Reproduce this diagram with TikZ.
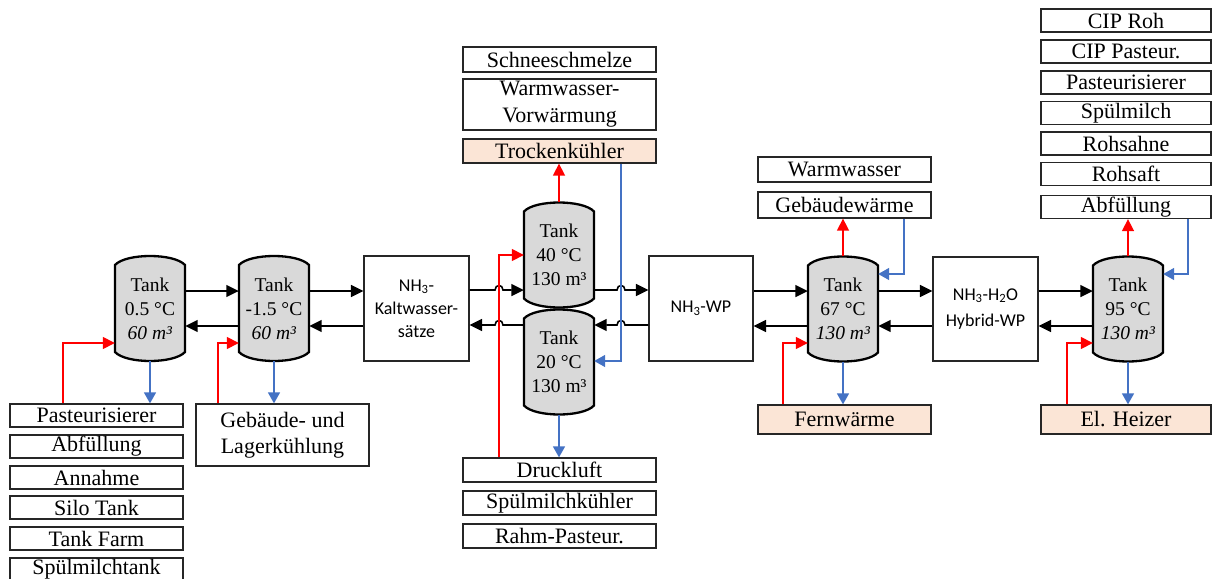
\documentclass[tikz,border=0pt]{standalone}
\usepackage{fontspec}
\setmainfont{Liberation Serif}
\newfontfamily\sansf{Carlito}
\usetikzlibrary{arrows.meta,calc}
\definecolor{peach}{HTML}{FBE5D6}
\definecolor{hblue}{HTML}{4472C4}
\definecolor{tgray}{HTML}{D9D9D9}
\newcommand\tankbody[2]{%
  \filldraw[draw=black,line width=2.3pt,fill=tgray]
  (#1-35,#2-43.5) .. controls (#1-24,#2-55.5) and (#1+24,#2-55.5) .. (#1+35,#2-43.5)
  -- (#1+35,#2+43.5) .. controls (#1+24,#2+55.5) and (#1-24,#2+55.5) .. (#1-35,#2+43.5) -- cycle;}
\begin{document}
\begin{tikzpicture}[x=1pt,y=-1pt,
  box/.style={draw=black!85,line width=1.3pt,inner sep=0pt,align=center,
    font=\fontsize{22}{26}\selectfont},
  sbox/.style={box,font=\sansf\fontsize{18}{23}\selectfont},
  tank/.style={inner sep=0pt,minimum width=70pt,minimum height=105pt,align=center,
    font=\fontsize{19.5}{24}\selectfont},
  warm/.style={fill=peach},
  blk/.style={line width=1.6pt,-{Triangle[length=12.5pt,width=12pt]}},
  hot/.style={red,line width=1.5pt,-{Triangle[length=12pt,width=12pt]}},
  cold/.style={hblue,line width=1.5pt,-{Triangle[length=11pt,width=12pt]}}]
\clip (0,0) rectangle (1212,578);
\fill[white] (0,0) rectangle (1212,578);

% left column
\node[box,minimum width=173pt,minimum height=23pt] (pa) at (96.5,415.5) {Pasteurisierer};
\node[box,minimum width=173pt,minimum height=23pt] (af) at (96.5,446.5) {Abfüllung};
\node[box,minimum width=173pt,minimum height=23pt] (an) at (96.5,477.5) {Annahme};
\node[box,minimum width=173pt,minimum height=23pt] (st) at (96.5,507.5) {Silo Tank};
\node[box,minimum width=173pt,minimum height=23pt] (tf) at (96.5,538.5) {Tank Farm};
\node[box,minimum width=173pt,minimum height=23pt] (sm) at (96.5,569.5) {Spülmilchtank};
\node[box,minimum width=173pt,minimum height=62pt] (gl) at (282.5,435) {Gebäude- und\\Lagerkühlung};

% middle top / bottom
\node[box,minimum width=193pt,minimum height=25pt] (sc) at (559.5,59.5) {Schneeschmelze};
\node[box,minimum width=193pt,minimum height=51pt,font=\fontsize{22}{27}\selectfont] (wv) at (559.5,104.5) {Warmwasser-\\Vorwärmung};
\node[box,warm,minimum width=193pt,minimum height=24pt] (tk) at (559.5,151) {Trockenkühler};
\node[box,minimum width=193pt,minimum height=24pt] (dl) at (559.5,470) {Druckluft};
\node[box,minimum width=193pt,minimum height=24pt] (sk) at (559.5,503) {Spülmilchkühler};
\node[box,minimum width=193pt,minimum height=24pt] (rp) at (559.5,536) {Rahm-Pasteur.};

% right middle
\node[box,minimum width=173pt,minimum height=25pt] (ww) at (844.5,169.5) {Warmwasser};
\node[box,minimum width=173pt,minimum height=26pt] (gw) at (844.5,205) {Gebäudewärme};
\node[box,warm,minimum width=173pt,minimum height=29pt] (fw) at (844.5,419.5) {Fernwärme};

% right column
\node[box,minimum width=170pt,minimum height=23pt] (c1) at (1126,20.5) {CIP Roh};
\node[box,minimum width=170pt,minimum height=23pt] (c2) at (1126,51.5) {CIP Pasteur.};
\node[box,minimum width=170pt,minimum height=23pt] (c3) at (1126,82.5) {Pasteurisierer};
\node[box,minimum width=170pt,minimum height=23pt] (c4) at (1126,113) {Spülmilch};
\node[box,minimum width=170pt,minimum height=23pt] (c5) at (1126,143.5) {Rohsahne};
\node[box,minimum width=170pt,minimum height=23pt] (c6) at (1126,174) {Rohsaft};
\node[box,minimum width=170pt,minimum height=23pt] (ab) at (1126,207) {Abfüllung};
\node[box,warm,minimum width=170pt,minimum height=29pt] (eh) at (1126,419.5) {El. Heizer};

% machines
\node[sbox,minimum width=105pt,minimum height=105pt] (kw) at (416.5,308.5) {NH\textsubscript{3}-\\Kaltwasser-\\sätze};
\node[sbox,minimum width=104pt,minimum height=105pt] (wp) at (701,308.5) {NH\textsubscript{3}-WP};
\node[sbox,minimum width=105pt,minimum height=104pt,font=\sansf\fontsize{18}{26}\selectfont] (hy) at (985.5,309) {NH\textsubscript{3}-H\textsubscript{2}O\\Hybrid-WP};

% tanks
\tankbody{150}{308.5}
\node[tank] (t1) at (150,308.5) {Tank\\0.5 °C\\\textit{60 m³}};
\tankbody{274}{308.5}
\node[tank] (t2) at (274,308.5) {Tank\\-1.5 °C\\\textit{60 m³}};
\tankbody{559}{255}
\node[tank] (t40) at (559,255) {Tank\\40 °C\\130 m³};
\tankbody{559}{362}
\node[tank] (t20) at (559,362) {Tank\\20 °C\\130 m³};
\tankbody{843}{309}
\node[tank] (t67) at (843,309) {Tank\\67 °C\\\textit{130 m³}};
\tankbody{1128}{309}
\node[tank] (t95) at (1128,309) {Tank\\95 °C\\\textit{130 m³}};

% levels
\coordinate (ya) at (0,291);
\coordinate (yb) at (0,326);
\coordinate (yc) at (0,290);
\coordinate (yd) at (0,325);

% black connectors
\draw[blk] (t1.east |- ya) -- (t2.west |- ya);
\draw[blk] (t2.west |- yb) -- (t1.east |- yb);
\draw[blk] (t2.east |- ya) -- (kw.west |- ya);
\draw[blk] (kw.west |- yb) -- (t2.east |- yb);
\draw[blk] (kw.east |- yc) -- (495,290) .. controls (495,284) and (503,284) .. (503,290) -- (t40.west |- yc);
\draw[blk] (t20.west |- yd) -- (503,325) .. controls (503,319) and (495,319) .. (495,325) -- (kw.east |- yd);
\draw[blk] (t40.east |- yc) -- (617,290) .. controls (617,284) and (625,284) .. (625,290) -- (wp.west |- yc);
\draw[blk] (wp.west |- yd) -- (625,325) .. controls (625,319) and (617,319) .. (617,325) -- (t20.east |- yd);
\draw[blk] (wp.east |- ya) -- (t67.west |- ya);
\draw[blk] (t67.west |- yb) -- (wp.east |- yb);
\draw[blk] (t67.east |- ya) -- (hy.west |- ya);
\draw[blk] (hy.west |- yb) -- (t67.east |- yb);
\draw[blk] (hy.east |- ya) -- (t95.west |- ya);
\draw[blk] (t95.west |- yb) -- (hy.east |- yb);

% hot / cold
\coordinate (r1) at (63,343);
\draw[hot] (pa.north -| r1) |- (t1.west |- r1);
\coordinate (r2) at (218,343);
\draw[hot] (gl.north -| r2) |- (t2.west |- r2);
\draw[cold] (t1.south) -- (t1.south |- pa.north);
\draw[cold] (t2.south) -- (t2.south |- gl.north);
\coordinate (r3) at (499,255);
\draw[hot] (dl.north -| r3) |- (t40.west);
\draw[hot] (t40.north) -- (t40.north |- tk.south);
\coordinate (b1) at (621,361);
\draw[cold] (tk.south -| b1) |- (t20.east |- b1);
\draw[cold] (t20.south) -- (t20.south |- dl.north);
\draw[hot] (t67.north) -- (t67.north |- gw.south);
\coordinate (b2) at (904,274);
\draw[cold] (gw.south -| b2) |- (t67.east |- b2);
\coordinate (r4) at (783,343);
\draw[hot] (fw.north -| r4) |- (t67.west |- r4);
\draw[cold] (t67.south) -- (t67.south |- fw.north);
\draw[hot] (t95.north) -- (t95.north |- ab.south);
\coordinate (b3) at (1188,274);
\draw[cold] (ab.south -| b3) |- (t95.east |- b3);
\coordinate (r5) at (1067,343);
\draw[hot] (eh.north -| r5) |- (t95.west |- r5);
\draw[cold] (t95.south) -- (t95.south |- eh.north);
\end{tikzpicture}
\end{document}
